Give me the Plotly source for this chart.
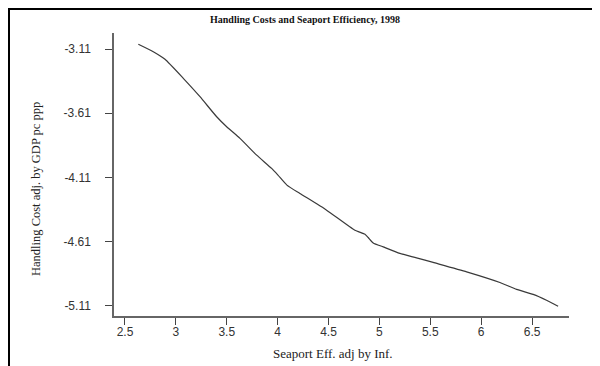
import plotly.graph_objects as go

seaport_eff = [2.631, 2.778, 2.893, 3.073, 3.237, 3.401, 3.499, 3.630, 3.794, 3.941,
               4.003, 4.091, 4.219, 4.481, 4.759, 4.858, 4.890, 4.939, 5.037, 5.201,
               5.365, 5.528, 5.857, 6.184, 6.348, 6.511, 6.642, 6.756]
handling_cost = [-3.073, -3.131, -3.190, -3.338, -3.481, -3.637, -3.715, -3.805, -3.936, -4.039,
                 -4.091, -4.169, -4.234, -4.364, -4.520, -4.551, -4.577, -4.619, -4.650, -4.701,
                 -4.735, -4.771, -4.844, -4.927, -4.981, -5.020, -5.065, -5.112]

x_ticks = [2.5, 3, 3.5, 4, 4.5, 5, 5.5, 6, 6.5]
x_tick_labels = ["2.5", "3", "3.5", "4", "4.5", "5", "5.5", "6", "6.5"]
y_ticks = [-3.11, -3.61, -4.11, -4.61, -5.11]
y_tick_labels = ["-3.11", "-3.61", "-4.11", "-4.61", "-5.11"]

title_text = "Handling Costs and Seaport Efficiency, 1998"
x_title = "Seaport Eff. adj by Inf."
y_title = "Handling Cost adj. by GDP pc ppp"

fig = go.Figure()
fig.add_trace(go.Scatter(x=seaport_eff, y=handling_cost, mode="lines",
                         line=dict(color="#3a3a3a", width=1.2, shape="spline", smoothing=0.5),
                         showlegend=False, hoverinfo="skip"))

# page has an 8px body margin; lay the figure out in page pixels minus that offset
OFF = 8
W, H = 600 - OFF, 366 - OFF
L, R, T, B = 114 - OFF, 31, 33 - OFF, 50
pw, ph = W - L - R, H - T - B

def px2paper_x(px):
    return (px - OFF - L) / pw

def px2paper_y(py):
    return (H - B - (py - OFF)) / ph

serif = "Liberation Serif, Times New Roman, serif"
sans = "Liberation Sans, Arial, sans-serif"

fig.update_layout(
    width=W, height=H,
    margin=dict(l=L, r=R, t=T, b=B),
    paper_bgcolor="white", plot_bgcolor="white",
    xaxis=dict(range=[2.392, 6.863], tickvals=x_ticks, ticktext=x_tick_labels,
               showgrid=False, zeroline=False, showline=True, linecolor="#666666", linewidth=1.5,
               ticks="outside", ticklen=7, tickcolor="#444444", tickwidth=1,
               tickfont=dict(family=sans, size=12, color="#333333"), ticklabelstandoff=-3),
    yaxis=dict(range=[-5.188, -2.985], tickvals=y_ticks, ticktext=y_tick_labels,
               showgrid=False, zeroline=False, showline=True, linecolor="#666666", linewidth=1.5,
               ticks="outside", ticklen=7, tickcolor="#444444", tickwidth=1,
               tickfont=dict(family=sans, size=12, color="#333333"), ticklabelstandoff=12),
    annotations=[
        dict(text="<b>" + title_text + "</b>", xref="paper", yref="paper",
             x=px2paper_x(305), y=px2paper_y(20), xanchor="center", yanchor="middle",
             showarrow=False, font=dict(family=serif, size=10, color="#111111")),
        dict(text=x_title, xref="paper", yref="paper",
             x=px2paper_x(333), y=px2paper_y(353), xanchor="center", yanchor="middle",
             showarrow=False, font=dict(family=serif, size=13, color="#222222")),
        dict(text=y_title, xref="paper", yref="paper", textangle=-90,
             x=px2paper_x(36), y=px2paper_y(189), xanchor="center", yanchor="middle",
             showarrow=False, font=dict(family=serif, size=12.5, color="#222222")),
    ],
    shapes=[
        dict(type="line", xref="paper", yref="paper",
             x0=px2paper_x(9), x1=px2paper_x(9), y0=px2paper_y(372), y1=px2paper_y(8),
             line=dict(color="black", width=2)),
        dict(type="line", xref="paper", yref="paper",
             x0=px2paper_x(8), x1=px2paper_x(606), y0=px2paper_y(9), y1=px2paper_y(9),
             line=dict(color="black", width=2)),
    ],
)

fig.write_html("out.html")
